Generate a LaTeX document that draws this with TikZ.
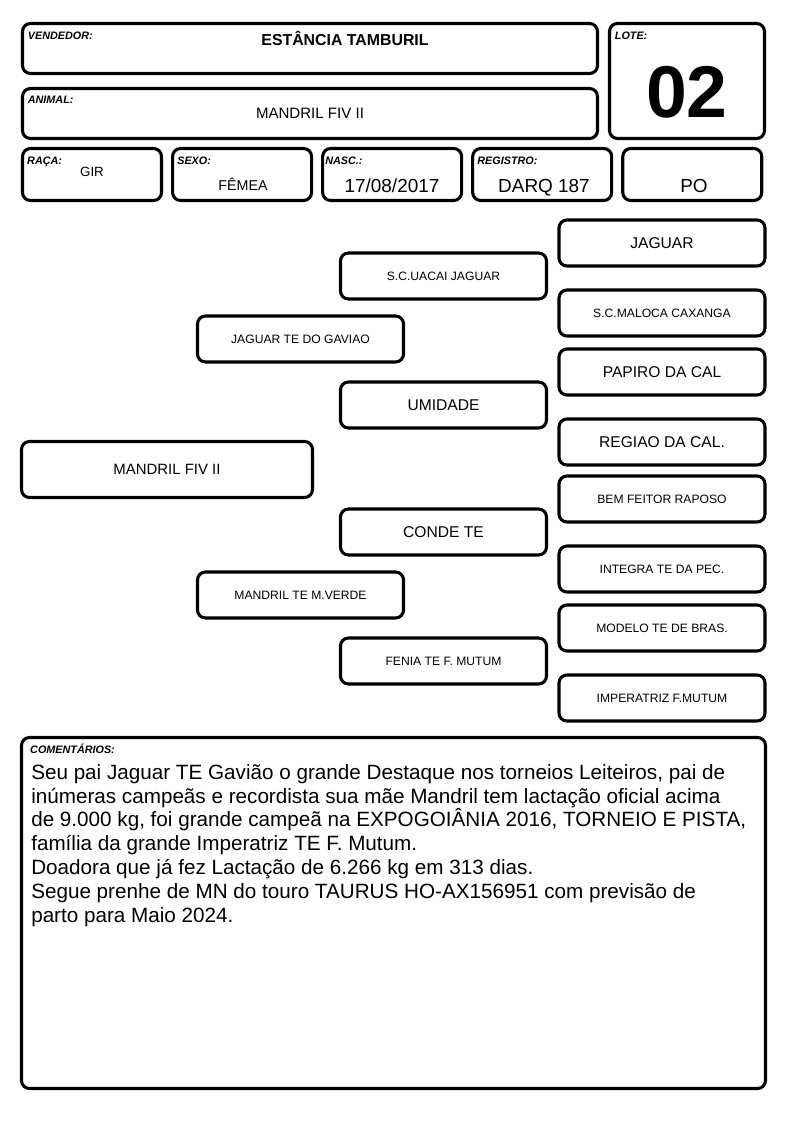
\documentclass[tikz,border=0pt]{standalone}
\usepackage{fontspec}
\setmainfont{Liberation Sans}
\usetikzlibrary{positioning}
\begin{document}
\begin{tikzpicture}[x=0.75pt, y=-0.75pt, node distance={6pt},
  box/.style = {draw, line width=2.3pt, rounded corners=6pt, inner sep=0pt},
  info/.style = {box, minimum width=104.25pt, minimum height=39pt},
  ped/.style = {box, minimum width=154.5pt, minimum height=34.5pt, font=\fontsize{9.1}{11}\selectfont},
  pedbig/.style = {ped, font=\fontsize{11.7}{14}\selectfont},
  tag/.style = {inner sep=0pt, font=\fontsize{8.1}{9}\selectfont\bfseries\itshape},
  val/.style = {inner sep=0pt, text depth=0pt, font=\fontsize{14.2}{17}\selectfont}]
\useasboundingbox (0,0) rectangle (794,1123);

% cabecalho
\node[box, minimum width=431.25pt, minimum height=37.5pt] (vendedor) at (310,48.5) {};
\node[box, minimum width=431.25pt, minimum height=37.5pt] (animal) at (310,113.5) {};
\node[box, minimum width=116.25pt, minimum height=86.25pt] (lote) at (687,81) {};
\node[tag, below right=7pt and 5pt of vendedor.north west] (vendedortag) {VENDEDOR:};
\node[tag, below right=7pt and 5pt of animal.north west] (animaltag) {ANIMAL:};
\node[tag, below right=7pt and 5pt of lote.north west] (lotetag) {LOTE:};
\node[inner sep=0pt, font=\fontsize{11.9}{14}\selectfont\bfseries] (vendedorval) at (345,38) {ESTÂNCIA TAMBURIL};
\node[inner sep=0pt, font=\fontsize{11.3}{14}\selectfont] (animalval) at (310,113) {MANDRIL FIV II};
\node[inner sep=0pt, font=\fontsize{55}{62}\selectfont\bfseries] (loteval) at (687,92.5) {02};

% dados
\node[info] (raca) at (92,174.5) {};
\node[info] (sexo) [right=of raca] {};
\node[info] (nasc) [right=of sexo] {};
\node[info] (registro) [right=of nasc] {};
\node[info] (po) [right=of registro] {};
\node[tag, below right=7pt and 4.5pt of raca.north west] (racatag) {RAÇA:};
\node[tag, below right=7pt and 4.5pt of sexo.north west] (sexotag) {SEXO:};
\node[tag, below right=7pt and 3pt of nasc.north west] (nasctag) {NASC.:};
\node[tag, below right=7pt and 4.5pt of registro.north west] (registrotag) {REGISTRO:};
\node[val, font=\fontsize{10}{12}\selectfont] (racaval) at (92,172) {GIR};
\node[val, font=\fontsize{10.7}{12}\selectfont] (sexoval) at (243,184) {FÊMEA};
\node[val] (nascval) at (392,186) {17/08/2017};
\node[val] (registroval) at (544,186) {DARQ 187};
\node[val] (poval) at (694,186) {PO};

% genealogia
\node[box, minimum width=218.25pt, minimum height=42pt, font=\fontsize{11.2}{14}\selectfont] (mandril) at (167,469.5) {MANDRIL FIV II};

\node[ped] (pai) at (300.5,339) {JAGUAR TE DO GAVIAO};
\node[ped] (mae) at (300.5,595) {MANDRIL TE M.VERDE};

\node[ped] (paipai) at (443.5,276) {S.C.UACAI JAGUAR};
\node[pedbig] (paimae) at (443.5,405) {UMIDADE};
\node[pedbig] (maepai) at (443.5,532) {CONDE TE};
\node[ped] (maemae) at (443.5,661) {FENIA TE F. MUTUM};

\node[pedbig] (paipaipai) at (662,243) {JAGUAR};
\node[ped] (paipaimae) at (662,313) {S.C.MALOCA CAXANGA};
\node[pedbig] (paimaepai) at (662,372) {PAPIRO DA CAL};
\node[pedbig] (paimaemae) at (662,442) {REGIAO DA CAL.};
\node[ped] (maepaipai) at (662,499) {BEM FEITOR RAPOSO};
\node[ped] (maepaimae) at (662,569) {INTEGRA TE DA PEC.};
\node[ped] (maemaepai) at (662,628) {MODELO TE DE BRAS.};
\node[ped] (maemaemae) at (662,698) {IMPERATRIZ F.MUTUM};

% comentarios
\node[box, minimum width=558pt, minimum height=263.25pt] (comentarios) at (393.5,913) {};
\node[tag, below right=6pt and 7.5pt of comentarios.north west] (comentariostag) {COMENTÁRIOS:};
\node[inner sep=0pt, anchor=north west, align=left, font=\fontsize{15.5}{17.85}\selectfont] (comentariosval) at (31,764) {%
Seu pai Jaguar TE Gavião o grande Destaque nos torneios Leiteiros, pai de\\
inúmeras campeãs e recordista sua mãe Mandril tem lactação oficial acima\\
de 9.000 kg, foi grande campeã na EXPOGOIÂNIA 2016, TORNEIO E PISTA,\\
família da grande Imperatriz TE F. Mutum.\\
Doadora que já fez Lactação de 6.266 kg em 313 dias.\\
Segue prenhe de MN do touro TAURUS HO-AX156951 com previsão de\\
parto para Maio 2024.};

\end{tikzpicture}
\end{document}
